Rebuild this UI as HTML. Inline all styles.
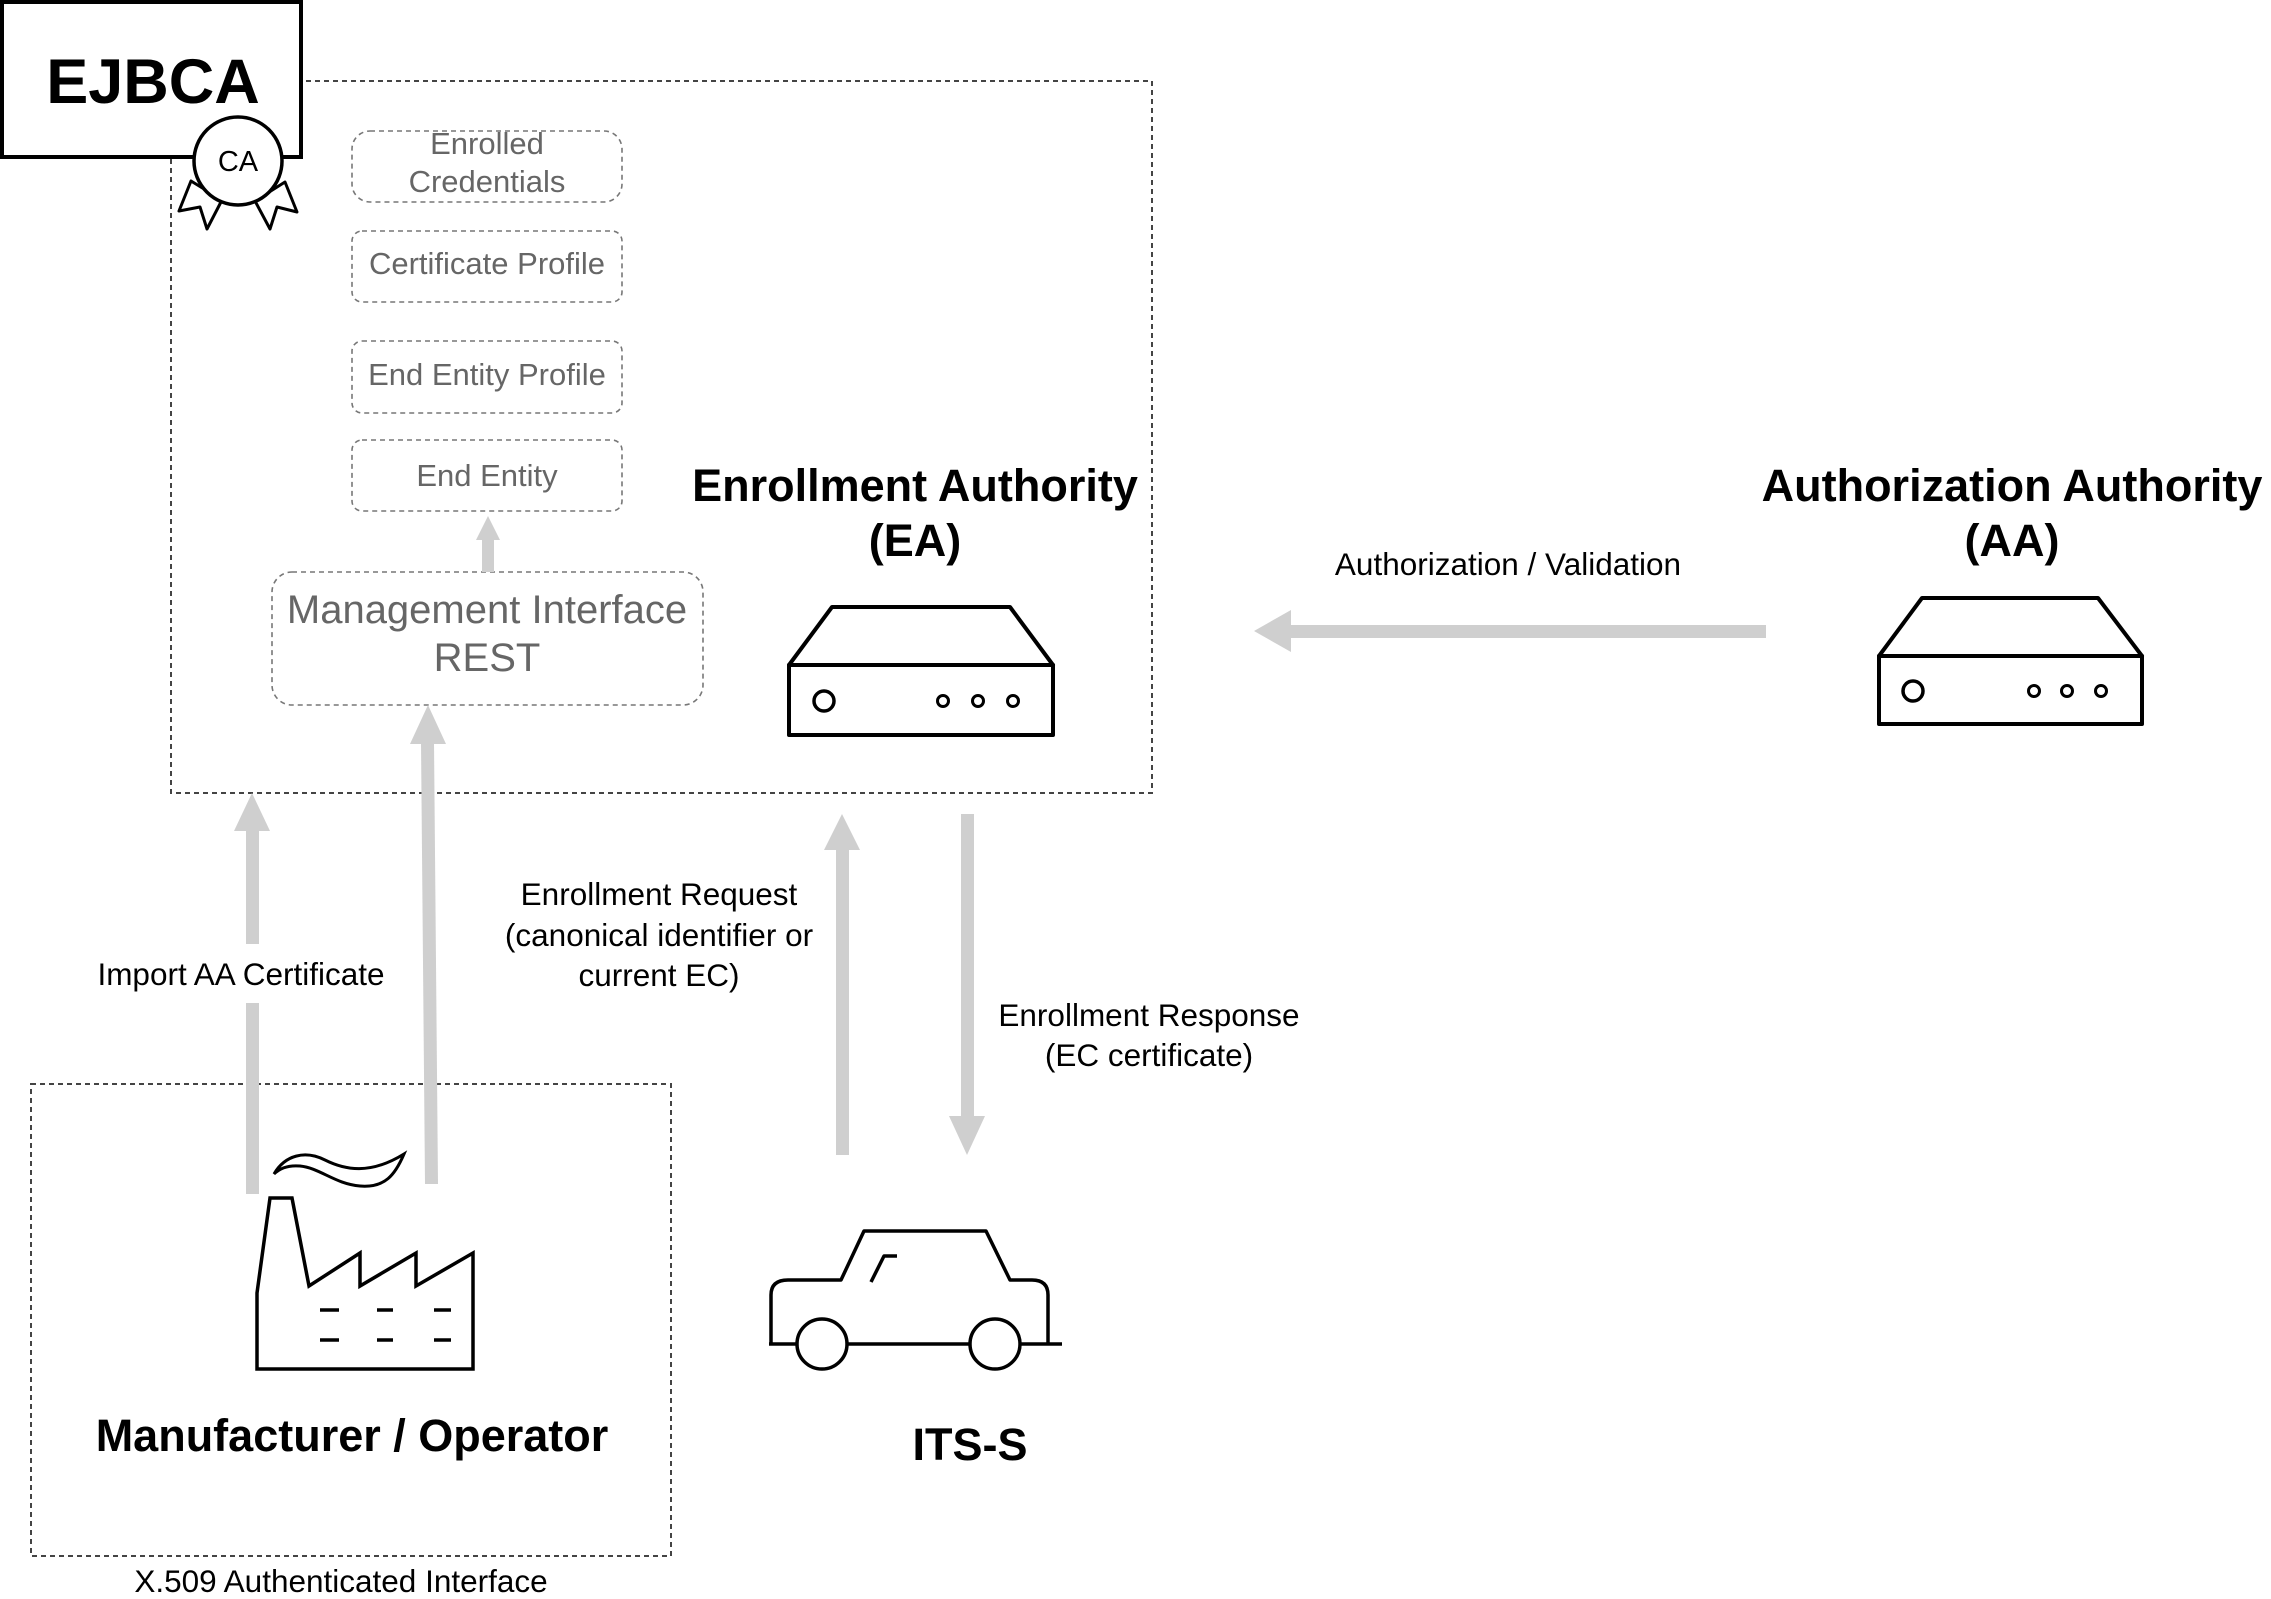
<!DOCTYPE html>
<html><head><meta charset="utf-8"><style>
html,body{margin:0;padding:0;background:#fff}
svg{display:block}
text{font-family:"Liberation Sans",Arial,sans-serif}
</style></head><body>
<svg width="2271" height="1599" viewBox="0 0 2271 1599" xmlns="http://www.w3.org/2000/svg">
<rect x="171" y="81" width="981" height="712" fill="none" stroke="#444" stroke-width="2" stroke-dasharray="5 4"/>
<rect x="31" y="1084" width="640" height="472" fill="none" stroke="#444" stroke-width="2" stroke-dasharray="5 4"/>

<rect x="2" y="2" width="299" height="155" fill="#fff" stroke="#000" stroke-width="4"/>
<text x="153" y="103" font-size="63" font-weight="bold" text-anchor="middle" fill="#000">EJBCA</text>
<polygon points="191,181 179,211 200,207 207,229 222,200" fill="#fff" stroke="#000" stroke-width="3" stroke-linejoin="round"/>
<polygon points="255,201 270,229 277,207 297,212 285,182" fill="#fff" stroke="#000" stroke-width="3" stroke-linejoin="round"/>
<circle cx="238" cy="161" r="44" fill="#fff" stroke="#000" stroke-width="3.5"/>
<text x="238" y="171" font-size="29" text-anchor="middle" fill="#000">CA</text>

<g fill="none" stroke="#777" stroke-width="1.6" stroke-dasharray="5 4">
<rect x="352" y="131" width="270" height="71" rx="18"/>
<rect x="352" y="231" width="270" height="71" rx="10"/>
<rect x="352" y="341" width="270" height="72" rx="10"/>
<rect x="352" y="440" width="270" height="71" rx="10"/>
<rect x="272" y="572" width="431" height="133" rx="20"/>
</g>
<g fill="#666" font-size="31" text-anchor="middle">
<text x="487" y="154">Enrolled</text>
<text x="487" y="192">Credentials</text>
<text x="487" y="274">Certificate Profile</text>
<text x="487" y="385">End Entity Profile</text>
<text x="487" y="486">End Entity</text>
<text x="487" y="623" font-size="40">Management Interface</text>
<text x="487" y="671" font-size="40">REST</text>
</g>

<g fill="#cfcfcf">
<rect x="482" y="538" width="12" height="34"/>
<polygon points="488,516 500,540 476,540"/>
<rect x="246" y="829" width="13" height="115"/>
<rect x="246" y="1003" width="13" height="191"/>
<polygon points="252,793 270,831 234,831"/>
<polygon points="421,742 434,742 438,1184 425,1184"/>
<polygon points="428,705 446,744 410,744"/>
<rect x="836" y="848" width="13" height="307"/>
<polygon points="842,814 860,850 824,850"/>
<rect x="961" y="814" width="13" height="304"/>
<polygon points="967,1155 985,1116 949,1116"/>
<rect x="1287" y="625" width="479" height="13"/>
<polygon points="1254,631 1291,610 1291,652"/>
</g>

<g fill="#000" font-size="31.5" text-anchor="middle">
<text x="1508" y="575">Authorization / Validation</text>
<text x="241" y="985">Import AA Certificate</text>
<text x="659" y="905">Enrollment Request</text>
<text x="659" y="946">(canonical identifier or</text>
<text x="659" y="986">current EC)</text>
<text x="1149" y="1026">Enrollment Response</text>
<text x="1149" y="1066">(EC certificate)</text>
<text x="341" y="1592">X.509 Authenticated Interface</text>
</g>
<g fill="#000" font-size="45" font-weight="bold" text-anchor="middle">
<text x="915" y="501">Enrollment Authority</text>
<text x="915" y="556">(EA)</text>
<text x="2012" y="501">Authorization Authority</text>
<text x="2012" y="556">(AA)</text>
<text x="352" y="1451">Manufacturer / Operator</text>
<text x="970" y="1460">ITS-S</text>
</g>

<g fill="#fff" stroke="#000" stroke-width="4" stroke-linejoin="round">
<polygon points="832,607 1010,607 1053,665 789,665"/>
<rect x="789" y="665" width="264" height="70"/>
<circle cx="824" cy="701" r="10" stroke-width="3.5"/>
<circle cx="943" cy="701" r="5.5" stroke-width="3"/>
<circle cx="978" cy="701" r="5.5" stroke-width="3"/>
<circle cx="1013" cy="701" r="5.5" stroke-width="3"/>
</g>
<g fill="#fff" stroke="#000" stroke-width="4" stroke-linejoin="round">
<polygon points="1922,598 2098,598 2142,656 1879,656"/>
<rect x="1879" y="656" width="263" height="68"/>
<circle cx="1913" cy="691" r="10" stroke-width="3.5"/>
<circle cx="2034" cy="691" r="5.5" stroke-width="3"/>
<circle cx="2067" cy="691" r="5.5" stroke-width="3"/>
<circle cx="2101" cy="691" r="5.5" stroke-width="3"/>
</g>

<g fill="none" stroke="#000" stroke-width="3.5" stroke-linejoin="miter">
<path d="M270,1198 L292,1198 L309,1286 L360,1253 L360,1286 L416,1253 L416,1286 L473,1253 L473,1369 L257,1369 L257,1293 Z"/>
<path d="M274,1174 C285,1155 305,1150 325,1160 C345,1170 370,1175 404,1154 C395,1175 385,1188 360,1186 C335,1184 320,1168 300,1166 C288,1165 280,1168 274,1174 Z" stroke-width="3"/>
<path d="M320,1310 H339 M377,1310 H393 M434,1310 H451 M320,1340 H339 M377,1340 H393 M434,1340 H451"/>
</g>

<g fill="none" stroke="#000" stroke-width="3.5" stroke-linejoin="round">
<path d="M769,1344 L1062,1344 M771,1344 L771,1295 Q771,1280 788,1280 L841,1280 L864,1231 L986,1231 L1010,1280 L1032,1280 Q1048,1280 1048,1295 L1048,1344"/>
<path d="M871,1282 L884,1256 L897,1256"/>
<circle cx="822" cy="1344" r="25" fill="#fff"/>
<circle cx="995" cy="1344" r="25" fill="#fff"/>
</g>
</svg>
</body></html>
